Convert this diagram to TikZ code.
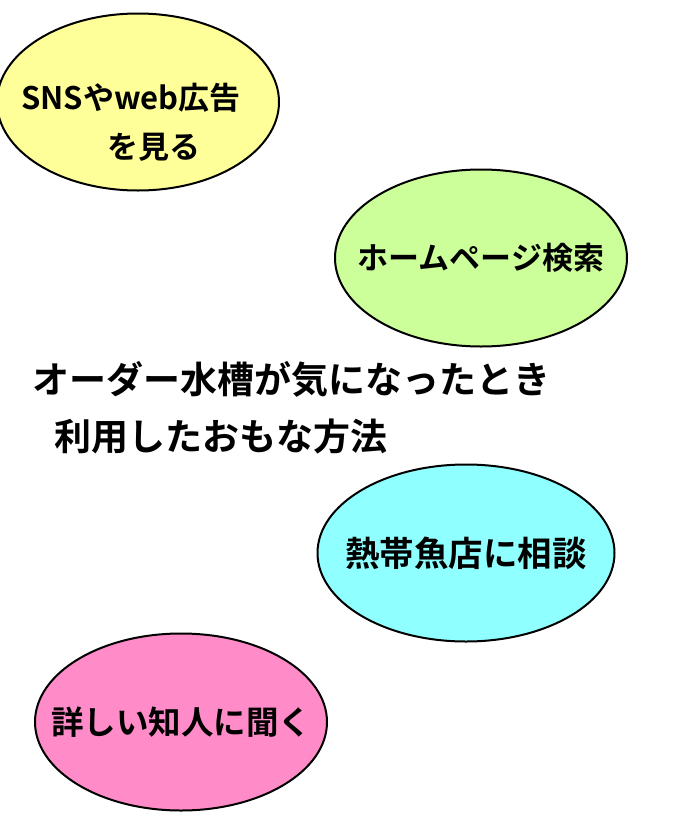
\documentclass[tikz,border=0pt]{standalone}
\usepackage{fontspec}
\setmainfont{Noto Sans CJK JP}[BoldFont={Noto Sans CJK JP Bold}]
\usetikzlibrary{shapes.geometric,positioning}

\definecolor{snsyellow}{RGB}{255,255,153}
\definecolor{hpgreen}{RGB}{204,255,153}
\definecolor{shopcyan}{RGB}{143,255,255}
\definecolor{friendpink}{RGB}{255,140,200}

\newcommand{\wayText}[1]{\makebox[0pt]{#1}}

\begin{document}
\begin{tikzpicture}[x=1pt,y=-1pt,
  way node/.style={ellipse,draw,line width=2pt,inner sep=0pt,
  minimum width=292pt,minimum height=177pt,
  font=\fontsize{31}{49}\selectfont\bfseries},
  text node/.style={inner sep=0pt,align=left,
  font=\fontsize{31}{49}\selectfont\bfseries},
  title node/.style={inner sep=0pt,align=left,anchor=west,
  font=\fontsize{37}{57}\selectfont\bfseries}]

  \useasboundingbox (0,0) rectangle (700,825);

  \node[way node,fill=snsyellow,minimum width=282pt] (SNS) at (138,102) {};
  \node[text node] (SNSText) at (131,122) {SNSやweb広告\\\hspace*{86pt}を見る};
  \node[way node,fill=hpgreen] (HP) at (481,258) {\wayText{ホームページ検索}};
  \node[way node,fill=shopcyan,minimum width=297pt,
    font=\fontsize{34.5}{49}\selectfont\bfseries] (Shop) at (466,553) {\wayText{熱帯魚店に相談}};
  \node[way node,fill=friendpink,
    font=\fontsize{32.5}{49}\selectfont\bfseries] (Friend) at (181,722) {\wayText{詳しい知人に聞く}};

  \node[title node] (Title) at (32,408) {オーダー水槽が気になったとき\\\hspace*{22pt}利用したおもな方法};

\end{tikzpicture}
\end{document}
